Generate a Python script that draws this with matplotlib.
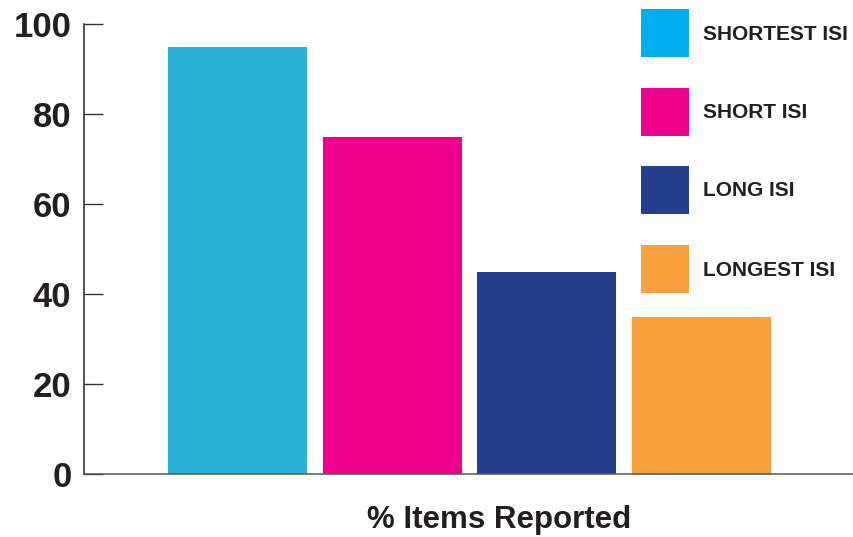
import matplotlib
matplotlib.use("Agg")
import matplotlib.pyplot as plt
from matplotlib.patches import Rectangle

categories = ["SHORTEST ISI", "SHORT ISI", "LONG ISI", "LONGEST ISI"]
values = [95, 75, 45, 35]
bar_colors = ["#27B2D6", "#EC008C", "#253F8E", "#F7A13F"]
legend_colors = ["#00AEEF", "#EC008C", "#253F8E", "#F7A13F"]
yticks = [0, 20, 40, 60, 80, 100]
xlabel = "% Items Reported"

font = "Liberation Sans"
txt = "#231F20"

W, H = 854, 537
fig = plt.figure(figsize=(W / 100, H / 100), dpi=100)
ax = fig.add_axes([84 / W, 1 - 474 / H, (W - 84) / W, (474 - 24) / H])

x = list(range(len(values)))
ax.bar(x, values, width=0.9, color=bar_colors, zorder=2)
ax.set_xlim(-0.994, 3.99)
ax.set_ylim(0, 100)
ax.set_yticks(yticks)
ax.set_yticklabels([str(t) for t in yticks], fontfamily=font, fontweight="bold",
                   fontsize=25, color=txt)
ax.set_xticks([])
ax.tick_params(axis="y", direction="in", length=14, width=1, color="#333333", pad=9)
for s in ["top", "right"]:
    ax.spines[s].set_visible(False)
ax.spines["left"].set_color("#222222")
ax.spines["left"].set_linewidth(1.1)
ax.spines["bottom"].set_color("#555555")
ax.spines["bottom"].set_linewidth(1.1)

fig.text(499 / W, 1 - 520 / H, xlabel, ha="center", va="center",
         fontfamily=font, fontweight="bold", fontsize=22.5, color=txt)

tops = [9, 88, 166, 245]
for top, lab, col in zip(tops, categories, legend_colors):
    fig.add_artist(Rectangle((641 / W, 1 - (top + 48) / H), 48 / W, 48 / H,
                             transform=fig.transFigure, color=col, lw=0))
    fig.text(703 / W, 1 - (top + 25) / H, lab, ha="left", va="center",
             fontfamily=font, fontweight="bold", fontsize=15, color=txt)

fig.savefig("out.png", dpi=100)
